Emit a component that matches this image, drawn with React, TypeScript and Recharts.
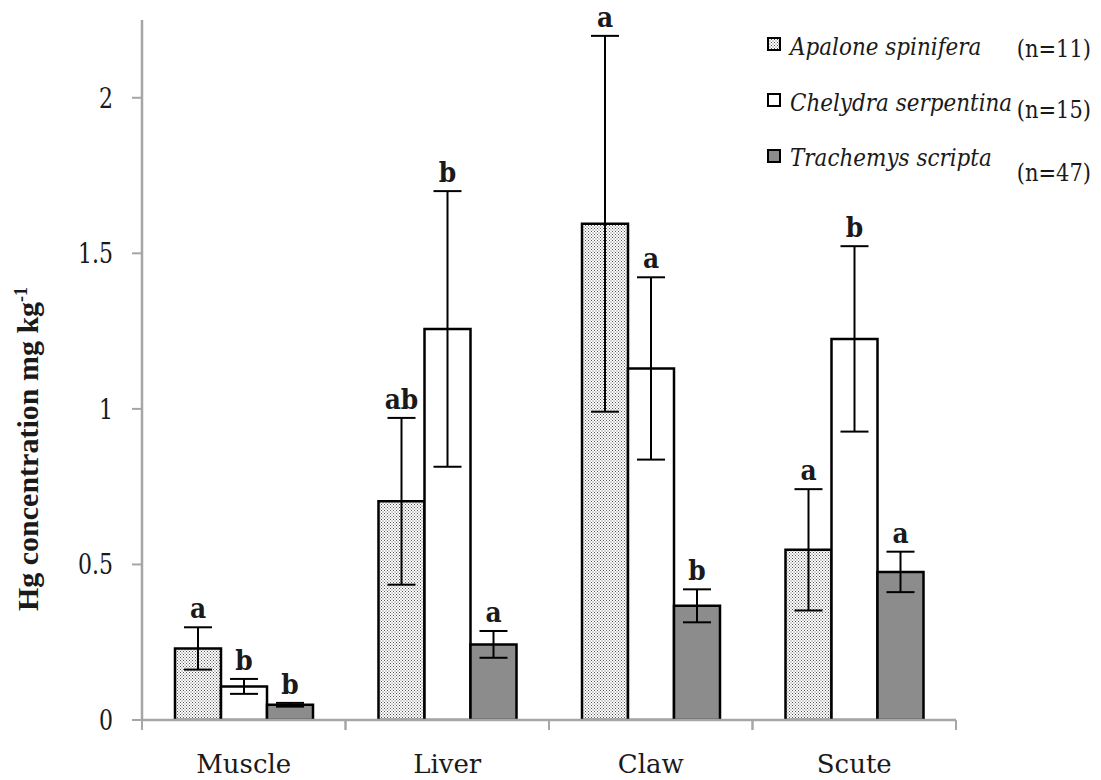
import React from "react";
import { BarChart, Bar, XAxis, YAxis, ErrorBar, LabelList, Legend } from "recharts";

// tissue categories and mean Hg (mg/kg) with standard errors per species
const tissues = ["Muscle", "Liver", "Claw", "Scute"];

const apalone = [0.23, 0.703, 1.595, 0.547];
const apaloneSe = [0.068, 0.268, 0.604, 0.195];
const apaloneGroups = ["a", "ab", "a", "a"];

const chelydra = [0.108, 1.257, 1.13, 1.225];
const chelydraSe = [0.024, 0.443, 0.293, 0.298];
const chelydraGroups = ["b", "b", "a", "b"];

const trachemys = [0.049, 0.243, 0.367, 0.476];
const trachemysSe = [0.006, 0.043, 0.053, 0.065];
const trachemysGroups = ["b", "a", "b", "a"];

const species = [
  { key: "apalone", name: "Apalone spinifera", n: "(n=11)", fill: "url(#stipple)" },
  { key: "chelydra", name: "Chelydra serpentina", n: "(n=15)", fill: "#ffffff" },
  { key: "trachemys", name: "Trachemys scripta", n: "(n=47)", fill: "#8c8c8c" },
];

const yTicks = [0, 0.5, 1, 1.5, 2];

const data = tissues.map((tissue, i) => ({
  tissue,
  apalone: apalone[i],
  apaloneSe: apaloneSe[i],
  apaloneGrp: apaloneGroups[i],
  chelydra: chelydra[i],
  chelydraSe: chelydraSe[i],
  chelydraGrp: chelydraGroups[i],
  trachemys: trachemys[i],
  trachemysSe: trachemysSe[i],
  trachemysGrp: trachemysGroups[i],
}));

const W = 1101;
const H = 780;
const MARGIN = { top: 20, right: 145, bottom: 0, left: 0 };
const Y_AXIS_W = 142;
const X_AXIS_H = 60;
const PLOT_BOTTOM = H - MARGIN.bottom - X_AXIS_H;
const HALF_BAND = (W - MARGIN.left - MARGIN.right - Y_AXIS_W) / tissues.length / 2;

const AXIS_GRAY = "#a6a6a6";
const TEXT = "#1a1a1a";
const SERIF = "'DejaVu Serif', serif";

// text drawn taller than wide, baseline kept at (x, y)
function TallText({ x, y, sy, children, ...rest }: any) {
  return (
    <text transform={`translate(${x} ${y}) scale(1 ${sy})`} x={0} y={0} {...rest}>
      {children}
    </text>
  );
}

// significance letter sitting just above the top of the error bar
const groupLetter = (key: string) => (props: any) => {
  const { x, y, width, height, value, index } = props;
  const row: any = data[index];
  const perUnit = height / row[key];
  const capY = y - row[key + "Se"] * perUnit;
  return (
    <TallText
      x={x + width / 2}
      y={capY - 9}
      sy={1.12}
      textAnchor="middle"
      fontFamily={SERIF}
      fontWeight="bold"
      fontSize={25}
      fill={TEXT}
    >
      {value}
    </TallText>
  );
};

function ValueTick(props: any) {
  const { x, y, payload } = props;
  return (
    <TallText x={x} y={y + 10} sy={1.25} textAnchor="end" fontFamily={SERIF} fontSize={22} fill={TEXT}>
      {payload.value}
    </TallText>
  );
}

function TissueTick(props: any) {
  const { x, payload } = props;
  return (
    <g>
      <line x1={x - HALF_BAND} x2={x - HALF_BAND} y1={PLOT_BOTTOM} y2={PLOT_BOTTOM + 10} stroke={AXIS_GRAY} strokeWidth={2} />
      <line x1={x + HALF_BAND} x2={x + HALF_BAND} y1={PLOT_BOTTOM} y2={PLOT_BOTTOM + 10} stroke={AXIS_GRAY} strokeWidth={2} />
      <text x={x} y={PLOT_BOTTOM + 53} textAnchor="middle" fontFamily={SERIF} fontSize={26} fill={TEXT}>
        {payload.value}
      </text>
    </g>
  );
}

function YTitle() {
  return (
    <text
      x={38}
      y={449}
      transform="rotate(-90 38 449)"
      textAnchor="middle"
      fontFamily="'Liberation Serif', serif"
      fontWeight="bold"
      fontSize={30}
      fill={TEXT}
    >
      Hg concentration mg kg
      <tspan dy={-11} fontSize={18}>-1</tspan>
    </text>
  );
}

function SpeciesLegend() {
  const rows = [
    { box: 38, name: 55, n: 57 },
    { box: 94, name: 111, n: 118 },
    { box: 150, name: 166, n: 181 },
  ];
  return (
    <svg width={W} height={200} style={{ display: "block" }}>
      <defs>
        <pattern id="stippleLegend" width={3} height={3} patternUnits="userSpaceOnUse">
          <rect width={3} height={3} fill="#ffffff" />
          <rect x={0} y={0} width={1} height={1} fill="#555" />
          <rect x={1.5} y={1.5} width={1} height={1} fill="#555" />
        </pattern>
      </defs>
      {species.map((s, i) => (
        <g key={s.key}>
          <rect
            x={768}
            y={rows[i].box}
            width={12}
            height={12}
            fill={s.key === "apalone" ? "url(#stippleLegend)" : s.fill}
            stroke="#000"
            strokeWidth={2}
          />
          <TallText x={790} y={rows[i].name} sy={1.15} fontFamily={SERIF} fontStyle="italic" fontSize={21.5} fill={TEXT}>
            {s.name}
          </TallText>
          <TallText x={1091} y={rows[i].n} sy={1.15} textAnchor="end" fontFamily={SERIF} fontSize={21} fill={TEXT}>
            {s.n}
          </TallText>
        </g>
      ))}
    </svg>
  );
}

export default function App() {
  return (
    <div style={{ position: "absolute", left: 0, top: 0, width: W, height: H, background: "#fff" }}>
      <BarChart width={W} height={H} data={data} margin={MARGIN} barGap={0} barCategoryGap={33}>
        <defs>
          <pattern id="stipple" width={3} height={3} patternUnits="userSpaceOnUse">
            <rect width={3} height={3} fill="#ffffff" />
            <rect x={0} y={0} width={1} height={1} fill="#555" />
            <rect x={1.5} y={1.5} width={1} height={1} fill="#555" />
          </pattern>
        </defs>
        <XAxis
          dataKey="tissue"
          height={X_AXIS_H}
          axisLine={{ stroke: AXIS_GRAY, strokeWidth: 2.5 }}
          tickLine={false}
          tick={<TissueTick />}
          interval={0}
        />
        <YAxis
          width={Y_AXIS_W}
          domain={[0, 2.25]}
          ticks={yTicks}
          allowDataOverflow
          axisLine={{ stroke: AXIS_GRAY, strokeWidth: 2.5 }}
          tickLine={{ stroke: AXIS_GRAY, strokeWidth: 2 }}
          tickSize={10}
          tickMargin={19}
          tick={<ValueTick />}
          label={<YTitle />}
        />
        <Legend
          layout="vertical"
          align="center"
          verticalAlign="middle"
          wrapperStyle={{ left: 0, top: 0, width: W, height: 200 }}
          content={() => <SpeciesLegend />}
        />
        {species.map((s) => (
          <Bar
            key={s.key}
            dataKey={s.key}
            name={s.name}
            fill={s.fill}
            stroke="#000"
            strokeWidth={2.5}
            isAnimationActive={false}
          >
            <ErrorBar
              dataKey={s.key + "Se"}
              width={14}
              stroke="#000"
              strokeWidth={2}
              direction="y"
              isAnimationActive={false}
            />
            <LabelList dataKey={s.key + "Grp"} content={groupLetter(s.key)} />
          </Bar>
        ))}
      </BarChart>
    </div>
  );
}
